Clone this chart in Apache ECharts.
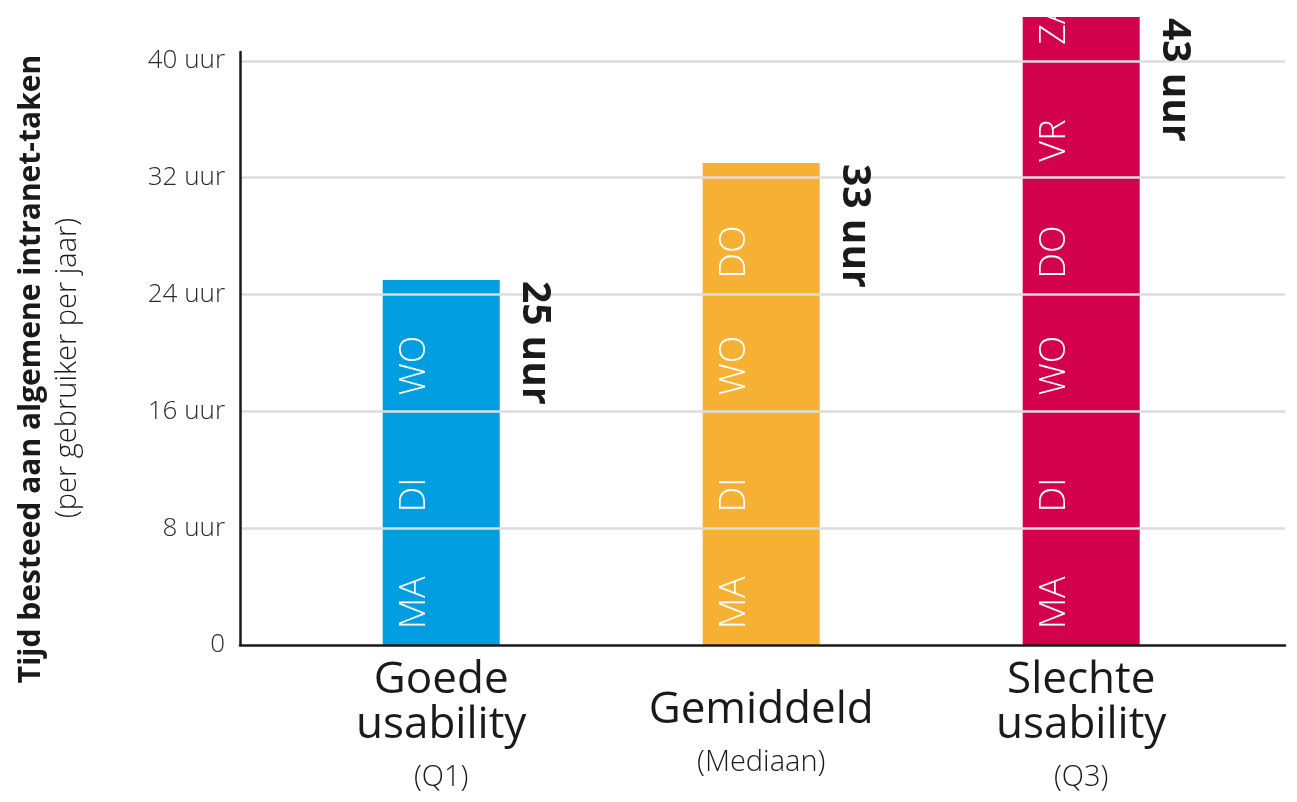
<!DOCTYPE html>
<html>
<head>
<meta charset="utf-8">
<script src="https://cdn.jsdelivr.net/npm/echarts@6/dist/echarts.min.js"></script>
<style>
  html, body { margin: 0; padding: 0; background: #ffffff; }
  #chart { width: 1297px; height: 802px; }
</style>
</head>
<body>
<div id="chart"></div>
<script>
// ---- data ----
const categories = ['Goede\nusability', 'Gemiddeld', 'Slechte\nusability'];
const subLabels = ['(Q1)', '(Mediaan)', '(Q3)'];
const hours = [25, 33, 43];
const dayNames = ['MA', 'DI', 'WO', 'DO', 'VR', 'ZA'];
const hoursPerDay = 8;
const yAxisTitle = 'Tijd besteed aan algemene intranet-taken';
const yAxisSubtitle = '(per gebruiker per jaar)';
const unit = 'uur';

// ---- styles ----
const barColors = ['#009ee0', '#f6b135', '#d3004c'];
const FONT = '"Open Sans", "Lato", sans-serif';
const TEXT = '#1a1a1a';
const BAR_W = 117;

const dayData = [];
hours.forEach((h, i) => {
  dayNames.forEach((d, k) => {
    if (k * hoursPerDay < h) dayData.push([i, k]);
  });
});

const chart = echarts.init(document.getElementById('chart'), null, { renderer: 'canvas' });

chart.setOption({
  backgroundColor: '#ffffff',
  animation: false,
  grid: [
    { left: 281.2, width: 960, top: 17, bottom: 157, outerBoundsMode: 'none', containLabel: false },
    { left: 240, right: 12, top: 52, bottom: 157, outerBoundsMode: 'none', containLabel: false }
  ],
  xAxis: [
    {
      type: 'category',
      gridIndex: 0,
      data: categories.map((c, i) => i === 1
        ? { value: c, textStyle: { padding: [15, 0, 0, 0], verticalAlign: 'middle', align: 'center' } }
        : c),
      axisLine: { show: false },
      axisTick: { show: false },
      splitLine: { show: false },
      axisLabel: {
        interval: 0,
        margin: 88,
        verticalAlign: 'middle',
        align: 'center',
        formatter: (value, idx) =>
          value.split('\n').map(s => '{big|' + s + '}').join('\n') + '\n{small|' + subLabels[idx] + '}',
        rich: {
          big: { fontFamily: FONT, fontSize: 44, lineHeight: 45, color: TEXT },
          small: { fontFamily: FONT, fontSize: 29, fontWeight: 300, lineHeight: 61, color: TEXT }
        }
      }
    },
    {
      type: 'value',
      gridIndex: 1,
      min: 0, max: 1,
      axisLine: { show: true, lineStyle: { color: TEXT, width: 2.5 } },
      axisTick: { show: false },
      axisLabel: { show: false },
      splitLine: { show: false },
      z: 4
    }
  ],
  yAxis: [
    {
      type: 'value',
      gridIndex: 0,
      min: 0, max: 43,
      show: false,
      splitLine: { show: false }
    },
    {
      type: 'value',
      gridIndex: 1,
      min: 0, max: 40.6,
      interval: 8,
      z: 3,
      axisLine: { show: true, lineStyle: { color: TEXT, width: 2.5 } },
      axisTick: { show: false },
      axisLabel: {
        margin: 15,
        showMaxLabel: false,
        fontFamily: FONT,
        fontSize: 26,
        fontWeight: 300,
        color: '#2a2a2a',
        formatter: v => v === 0 ? '0' : v + ' ' + unit
      },
      splitLine: {
        show: true,
        showMinLine: false,
        showMaxLine: false,
        lineStyle: { color: '#dcdcdc', width: 2.5 }
      }
    }
  ],
  graphic: [
    {
      type: 'text', x: 31, y: 369, rotation: Math.PI / 2,
      style: {
        text: yAxisTitle, fill: TEXT,
        font: 'bold 30px ' + FONT,
        align: 'center', verticalAlign: 'middle',
        textAlign: 'center', textVerticalAlign: 'middle'
      }
    },
    {
      type: 'text', x: 68, y: 368, rotation: Math.PI / 2,
      style: {
        text: yAxisSubtitle, fill: TEXT,
        font: '300 29px ' + FONT,
        align: 'center', verticalAlign: 'middle',
        textAlign: 'center', textVerticalAlign: 'middle'
      }
    }
  ],
  series: [
    {
      type: 'bar',
      xAxisIndex: 0, yAxisIndex: 0,
      data: hours,
      barWidth: BAR_W,
      z: 2,
      itemStyle: { color: p => barColors[p.dataIndex] }
    },
    {
      type: 'custom',
      xAxisIndex: 0, yAxisIndex: 0,
      z: 6,
      data: dayData,
      renderItem: (params, api) => {
        const i = api.value(0), k = api.value(1);
        const base = api.coord([i, 0]);
        const top = api.coord([i, hours[i]]);
        const y0 = api.coord([i, k * hoursPerDay])[1] - 16;
        return {
          type: 'group',
          clipPath: {
            type: 'rect',
            shape: { x: base[0] - BAR_W / 2, y: top[1], width: BAR_W, height: base[1] - top[1] }
          },
          children: [{
            type: 'text',
            x: base[0] - 26.5,
            y: y0,
            rotation: Math.PI / 2,
            style: {
              text: dayNames[k], fill: '#ffffff',
              font: '300 36px ' + FONT,
              align: 'left', verticalAlign: 'middle',
              textAlign: 'left', textVerticalAlign: 'middle'
            }
          }]
        };
      }
    },
    {
      type: 'custom',
      xAxisIndex: 0, yAxisIndex: 0,
      z: 6,
      data: hours.map((h, i) => [i, h]),
      renderItem: (params, api) => {
        const i = api.value(0), h = api.value(1);
        const top = api.coord([i, h]);
        return {
          type: 'text',
          x: top[0] + BAR_W / 2 + 34,
          y: top[1] + 1,
          rotation: -Math.PI / 2,
          style: {
            text: h + ' ' + unit, fill: TEXT,
            font: 'bold 39px ' + FONT,
            align: 'left', verticalAlign: 'middle',
            textAlign: 'left', textVerticalAlign: 'middle'
          }
        };
      }
    }
  ]
});
</script>
</body>
</html>
